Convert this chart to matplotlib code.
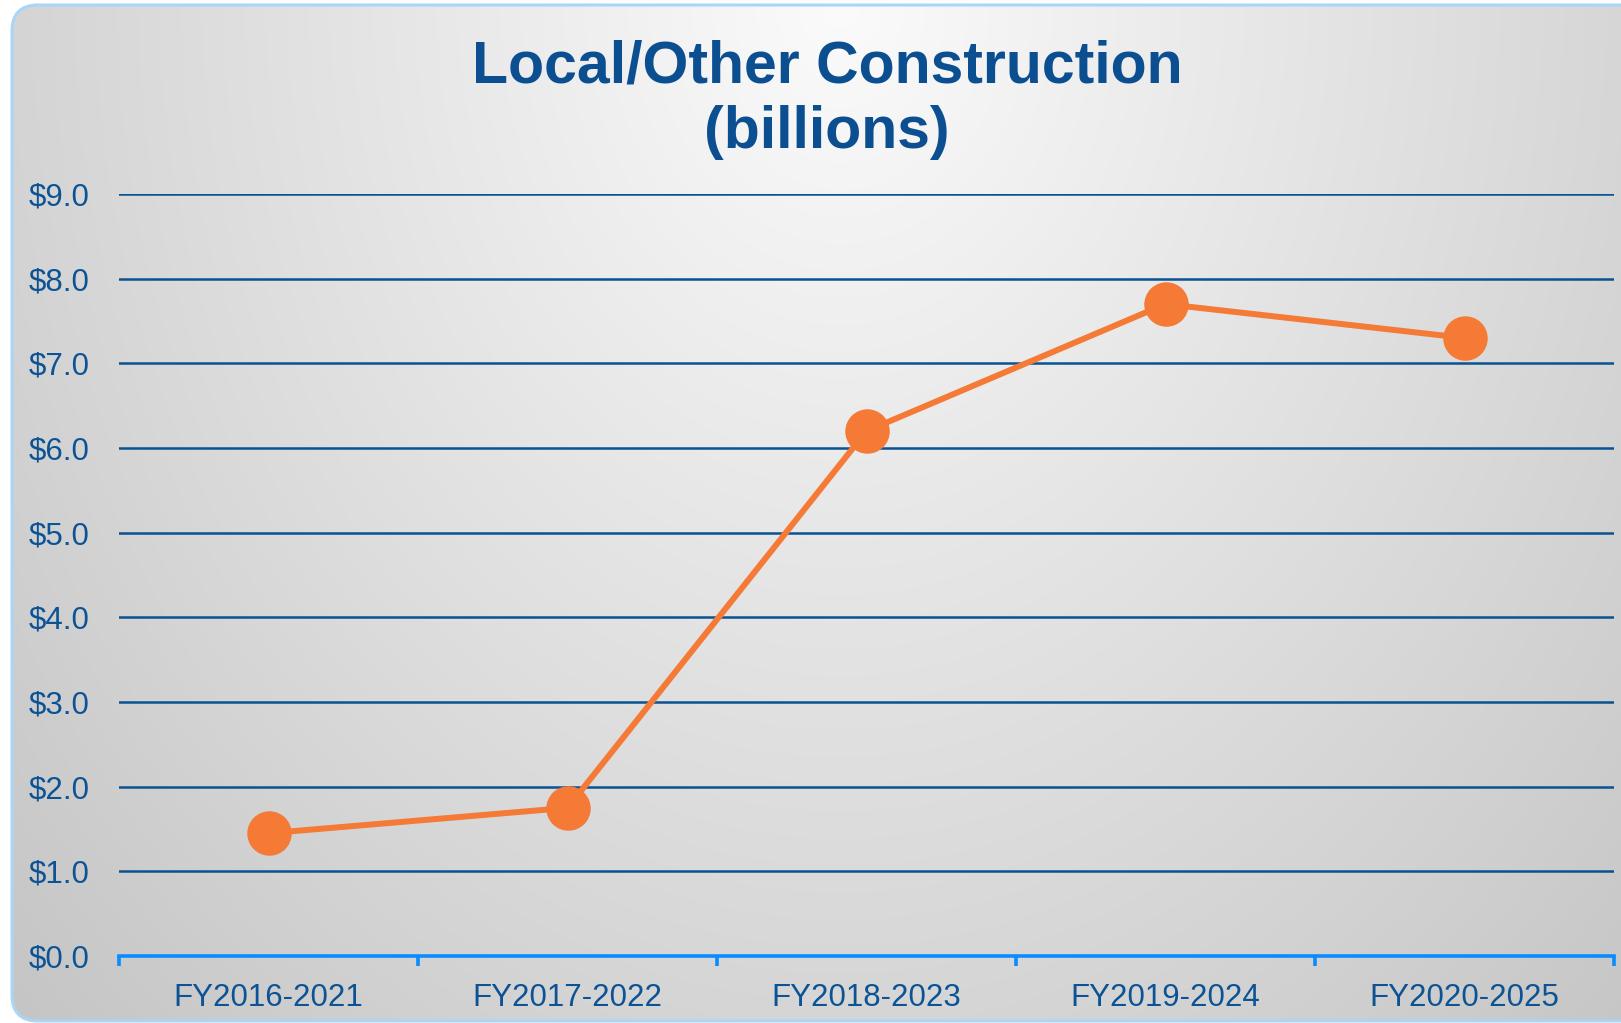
import numpy as np
import matplotlib
matplotlib.use("Agg")
import matplotlib.pyplot as plt
from matplotlib.patches import FancyBboxPatch

# ---- data ----
categories = ["FY2016-2021", "FY2017-2022", "FY2018-2023", "FY2019-2024", "FY2020-2025"]
values = [1.45, 1.75, 6.2, 7.7, 7.3]
yticks = [0, 1, 2, 3, 4, 5, 6, 7, 8, 9]
ytick_labels = ["$%.1f" % v for v in yticks]
title_line1 = "Local/Other Construction"
title_line2 = "(billions)"

W, H = 1621, 1023
DPI = 100
plt.rcParams['font.family'] = ['Liberation Sans', 'DejaVu Sans']

fig = plt.figure(figsize=(W / DPI, H / DPI), dpi=DPI)
fig.patch.set_facecolor("white")

# ---- background card with radial gradient ----
bg = fig.add_axes([0, 0, 1, 1])
bg.set_xlim(0, W)
bg.set_ylim(H, 0)
bg.axis("off")
yy, xx = np.mgrid[0:H, 0:W]
cx, cy = 840.0, 0.0
d = np.sqrt((0.047 * (xx - cx)) ** 2 + (0.037 * (yy - cy)) ** 2)
gray = np.clip(251 - d, 150, 255) / 255.0
img = np.dstack([gray, gray, gray])
im = bg.imshow(img, extent=(0, W, H, 0), interpolation="bilinear", zorder=0)
card = FancyBboxPatch((12, 5), 1750, 1016,
                      boxstyle="round,pad=0,rounding_size=26",
                      facecolor="none", edgecolor="#A9D6F7", linewidth=2.2, zorder=2)
bg.add_patch(card)
im.set_clip_path(card)

# ---- main axes ----
left, right = 119 / W, 1614 / W
bottom = (H - 956) / H
top = (H - 194) / H
ax = fig.add_axes([left, bottom, right - left, top - bottom])
ax.patch.set_alpha(0)

x = np.arange(len(categories))
ax.plot(x, values, color="#F47A36", linewidth=4.3, marker="o",
        markersize=31, markerfacecolor="#F47A36", markeredgecolor="#F47A36",
        zorder=5, clip_on=False, solid_capstyle="round")

ax.set_xlim(-0.5, len(categories) - 0.5)
ax.set_ylim(0, 9)

text_color = "#0B5394"
grid_color = "#0A5292"
for v in yticks[1:]:
    ax.axhline(v, color=grid_color, linewidth=1.8, zorder=1)

for s in ["top", "right", "left"]:
    ax.spines[s].set_visible(False)
ax.spines["bottom"].set_color("#0A8CFF")
ax.spines["bottom"].set_linewidth(2.6)
ax.spines["bottom"].set_zorder(3)

ax.set_yticks(yticks)
ax.set_yticklabels(ytick_labels)
ax.tick_params(axis="y", length=0, pad=21, labelsize=22.5, labelcolor=text_color)

ax.set_xticks(np.arange(len(categories) + 1) - 0.5)
ax.set_xticklabels([])
ax.tick_params(axis="x", which="major", direction="out", length=7,
               width=2.6, color="#0A8CFF")
ax.set_xticks(x, minor=True)
ax.set_xticklabels(categories, minor=True)
ax.tick_params(axis="x", which="minor", length=0, pad=19.5,
               labelsize=22.5, labelcolor=text_color)

# ---- title ----
fig.text(827 / W, 1 - 83 / H, title_line1, ha="center", va="baseline",
         fontsize=42.5, fontweight="bold", color="#0B4F91")
fig.text(827 / W, 1 - 148 / H, title_line2, ha="center", va="baseline",
         fontsize=42.5, fontweight="bold", color="#0B4F91")

fig.savefig("out.png", dpi=DPI)
